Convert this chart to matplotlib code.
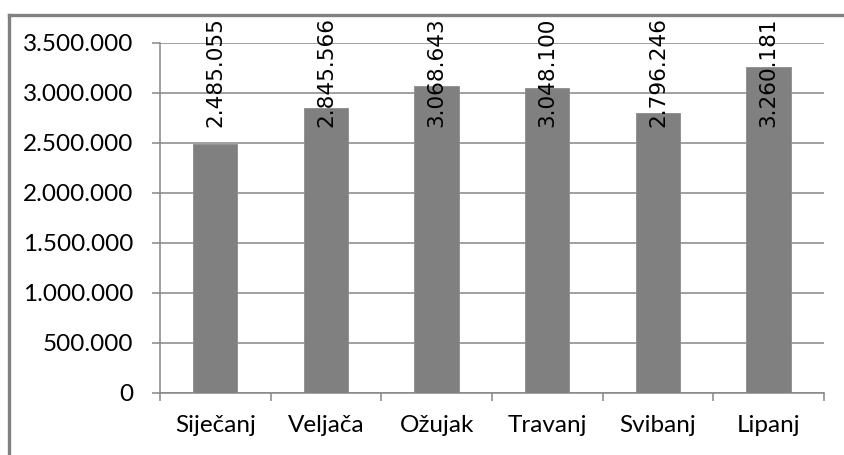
import matplotlib.pyplot as plt
import numpy as np
from matplotlib.lines import Line2D
from matplotlib.ticker import FuncFormatter, FixedLocator

months = ['Siječanj', 'Veljača', 'Ožujak', 'Travanj', 'Svibanj', 'Lipanj']
values = [2485055, 2845566, 3068643, 3048100, 2796246, 3260181]
yticks = [0, 500000, 1000000, 1500000, 2000000, 2500000, 3000000, 3500000]


def dots(v, pos=None):
    return f"{int(v):,}".replace(',', '.')


grey = '#868686'
fig = plt.figure(figsize=(8.45, 4.55), dpi=100)
ax = fig.add_axes([0.1893, 0.1363, 0.7858, 0.7692])

x = np.arange(len(months))
ax.bar(x, values, width=0.4, color='#808080', edgecolor='#8c8c8c', linewidth=0.6, zorder=3)

for xi, v in zip(x, values):
    ax.text(xi, 2660000, dots(v), rotation=90, ha='center', va='bottom',
            fontsize=15.5, family='DejaVu Sans', color='black', zorder=4, clip_on=False)

ax.set_xlim(-0.5, len(months) - 0.5)
ax.set_ylim(0, 3500000)
ax.set_yticks(yticks)
ax.yaxis.set_major_formatter(FuncFormatter(dots))
ax.yaxis.grid(True, color=grey, linewidth=1.1, zorder=0)

ax.set_xticks(x)
ax.set_xticklabels(months)
ax.xaxis.set_minor_locator(FixedLocator(np.arange(len(months) + 1) - 0.5))
ax.tick_params(axis='x', which='major', length=0, pad=16)
ax.tick_params(axis='x', which='minor', length=6, width=1.1, color=grey, direction='out')
ax.tick_params(axis='y', length=6, width=1.1, color=grey, direction='out', pad=13)

for lbl in ax.get_xticklabels() + ax.get_yticklabels():
    lbl.set_family('Lato')
    lbl.set_fontsize(17.5)

for s in ['top', 'right']:
    ax.spines[s].set_visible(False)
for s in ['left', 'bottom']:
    ax.spines[s].set_color(grey)
    ax.spines[s].set_linewidth(1.1)

# outer chart border (only top and left show)
fig.add_artist(Line2D([9.5 / 845, 1], [1 - 14.5 / 455, 1 - 14.5 / 455], color='#808080', linewidth=2.4))
fig.add_artist(Line2D([9.5 / 845, 9.5 / 845], [0, 1 - 14.5 / 455], color='#808080', linewidth=2.4))

fig.savefig('out.png', dpi=100)
